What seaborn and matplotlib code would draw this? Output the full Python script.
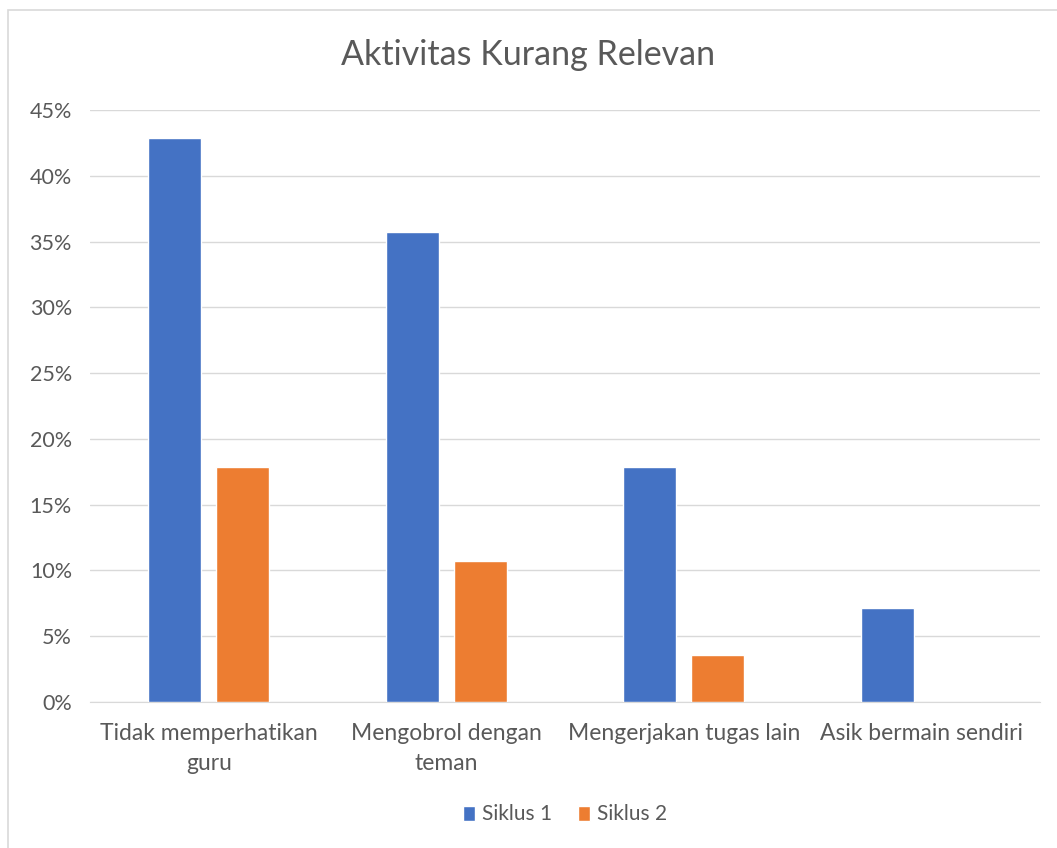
import matplotlib
matplotlib.use("Agg")
import matplotlib.pyplot as plt
import matplotlib.ticker as mticker
from matplotlib.patches import Rectangle
import seaborn as sns
import pandas as pd

categories = ["Tidak memperhatikan\nguru", "Mengobrol dengan\nteman",
              "Mengerjakan tugas lain", "Asik bermain sendiri"]
siklus_1 = [0.4286, 0.3571, 0.1786, 0.0714]
siklus_2 = [0.1786, 0.1071, 0.0357, 0.0]
series = ["Siklus 1", "Siklus 2"]

df = pd.DataFrame({
    "Kategori": categories * 2,
    "Nilai": siklus_1 + siklus_2,
    "Siklus": [series[0]] * 4 + [series[1]] * 4,
})

sns.set_style("white")
plt.rcParams["font.family"] = ["Lato", "DejaVu Sans"]
grey = "#595959"

fig = plt.figure(figsize=(10.57, 8.48), dpi=100)
ax = fig.add_axes([90 / 1057, 1 - 702 / 848, 950 / 1057, 592 / 848])

sns.barplot(data=df, x="Kategori", y="Nilai", hue="Siklus",
            palette=["#4472C4", "#ED7D31"], width=0.573, gap=0.22,
            saturation=1, ax=ax, zorder=3)

ax.set_ylim(0, 0.45)
ax.set_xlim(-0.5, 3.5)
ax.yaxis.set_major_locator(mticker.MultipleLocator(0.05))
ax.yaxis.set_major_formatter(mticker.FuncFormatter(lambda v, p: f"{v*100:.0f}%"))
ax.grid(axis="y", color="#D9D9D9", linewidth=1, zorder=0)
for s in ["top", "right", "left"]:
    ax.spines[s].set_visible(False)
ax.spines["bottom"].set_color("#D9D9D9")
ax.tick_params(axis="y", length=0, labelsize=15.5, colors=grey, pad=13)
ax.tick_params(axis="x", length=0, labelsize=16.5, colors=grey, pad=15)
for t in ax.get_xticklabels():
    t.set_linespacing(1.55)
ax.set_xlabel("")
ax.set_ylabel("")

fig.text(0.5, 1 - 55 / 848, "Aktivitas Kurang Relevan", ha="center", va="center",
         fontsize=24.5, color=grey)

handles, labels = ax.get_legend_handles_labels()
ax.legend(handles, labels, loc="center", bbox_to_anchor=(0.5, -0.19), ncol=2,
          frameon=False, fontsize=15, labelcolor=grey, handlelength=0.6,
          handleheight=0.75, handletextpad=0.35, columnspacing=1.2)

fig.patches.append(Rectangle((8 / 1057, -0.01), 1.1, 1 - 10 / 848 + 0.01,
                             transform=fig.transFigure, fill=False,
                             edgecolor="#D9D9D9", linewidth=1.2))

fig.savefig("out.png", dpi=100)
